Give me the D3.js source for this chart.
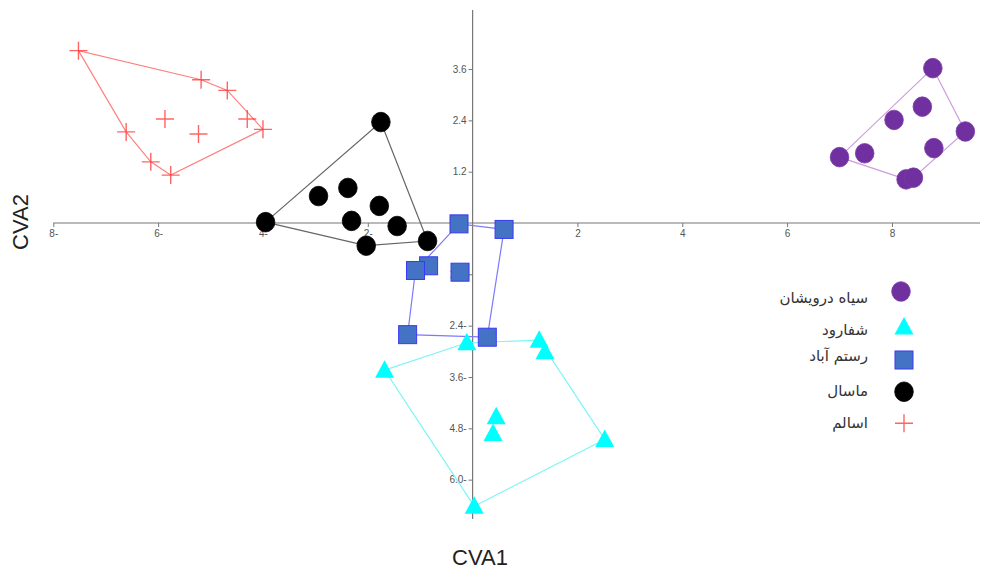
<!DOCTYPE html>
<html><head><meta charset="utf-8">
<script src="https://cdn.jsdelivr.net/npm/d3@7/dist/d3.min.js"></script>
<style>body{margin:0;background:#fff}svg{display:block}</style>
</head><body>
<svg id="c" width="987" height="569"></svg>
<script>
// ---- data ----
const groups = ["سیاه درویشان", "شفارود", "رستم آباد", "ماسال", "اسالم"];
const siahDarvishan = [[8.78,3.62],[8.58,2.72],[8.04,2.41],[9.40,2.14],[7.00,1.54],[7.48,1.63],[8.80,1.75],[8.27,1.02],[8.41,1.06]];
const shafarood = [[-0.11,-2.80],[-1.68,-3.44],[1.27,-2.74],[1.38,-3.01],[0.45,-4.53],[0.39,-4.92],[2.52,-5.06],[0.03,-6.62]];
const rostamabad = [[-0.26,-0.02],[0.60,-0.15],[-0.84,-1.00],[-1.09,-1.11],[-0.24,-1.15],[-1.24,-2.61],[0.28,-2.67]];
const masal = [[-1.75,2.36],[-3.95,0.02],[-2.94,0.63],[-2.38,0.82],[-1.78,0.40],[-2.31,0.05],[-1.44,-0.07],[-2.03,-0.53],[-0.86,-0.42]];
const asalem = [[-7.52,4.03],[-5.18,3.35],[-4.68,3.10],[-4.30,2.43],[-4.00,2.19],[-5.87,2.43],[-5.23,2.08],[-6.61,2.13],[-6.14,1.43],[-5.76,1.12]];
const xTickValues = [-8,-6,-4,-2,2,4,6,8];
const xTickLabels = ["8-","6-","4-","2-","2","4","6","8"];
const yTickValues = [3.6,2.4,1.2,-1.2,-2.4,-3.6,-4.8,-6.0];
const yTickLabels = ["3.6","2.4","1.2","1.2-","2.4-","3.6-","4.8-","6.0-"];

// ---- styles ----
const styles = [
  {shape:"circle", fill:"#7030A0", stroke:"#7a3aa8", hull:"#cc9ddb"},
  {shape:"triangle", fill:"#00FFFF", stroke:"#00FFFF", hull:"#7ff5f5"},
  {shape:"square", fill:"#4472C4", stroke:"#3a3af0", hull:"#7a7aff"},
  {shape:"circle", fill:"#000000", stroke:"#000000", hull:"#666666"},
  {shape:"plus", fill:"none", stroke:"#ff3030", hull:"#ff8080"}
];
const series = [siahDarvishan, shafarood, rostamabad, masal, asalem];

const svg = d3.select("#c");
const x = d3.scaleLinear().domain([-8, 9.68]).range([53.3, 980]);
const y = d3.scaleLinear().domain([-6.92, 4.98]).range([519, 10]);

// axes lines
svg.append("line").attr("x1", x(-8)).attr("x2", x(9.68)).attr("y1", y(0)).attr("y2", y(0))
  .attr("stroke", "#777").attr("stroke-width", 1.2);
svg.append("line").attr("x1", x(0)).attr("x2", x(0)).attr("y1", y(4.98)).attr("y2", y(-6.92))
  .attr("stroke", "#777").attr("stroke-width", 1.2);

// x ticks
const xt = svg.append("g").attr("transform", `translate(0,${y(0)})`)
  .call(d3.axisBottom(x).tickValues(xTickValues).tickSize(4).tickPadding(3)
    .tickFormat((d,i)=>xTickLabels[i]));
xt.select(".domain").remove();
xt.selectAll("line").attr("stroke", "#777");
xt.selectAll("text").attr("fill", "#555").style("font", "10px 'Liberation Sans', Arial, sans-serif");

const yt = svg.append("g").attr("transform", `translate(${x(0)},0)`)
  .call(d3.axisLeft(y).tickValues(yTickValues).tickSize(4).tickPadding(2)
    .tickFormat((d,i)=>yTickLabels[i]));
yt.select(".domain").remove();
yt.selectAll("line").attr("stroke", "#777");
yt.selectAll("text").attr("fill", "#555").style("font", "10px 'Liberation Sans', Arial, sans-serif");

// hulls
series.forEach((pts, i) => {
  const hull = d3.polygonHull(pts.map(p => [x(p[0]), y(p[1])]));
  svg.append("path").attr("d", "M" + hull.join("L") + "Z")
    .attr("fill", "none").attr("stroke", styles[i].hull).attr("stroke-width", 1.2);
});

function drawMarker(g, st, cx, cy) {
  if (st.shape === "circle") {
    g.append("ellipse").attr("cx", cx).attr("cy", cy).attr("rx", 9.3).attr("ry", 9.8)
      .attr("fill", st.fill).attr("stroke", st.stroke).attr("stroke-width", 0.8);
  } else if (st.shape === "square") {
    g.append("rect").attr("x", cx - 9).attr("y", cy - 9).attr("width", 18).attr("height", 18)
      .attr("fill", st.fill).attr("stroke", st.stroke).attr("stroke-width", 1);
  } else if (st.shape === "triangle") {
    g.append("path").attr("d", `M${cx},${cy-10}L${cx+9.5},${cy+7.5}L${cx-9.5},${cy+7.5}Z`)
      .attr("fill", st.fill);
  } else {
    g.append("path").attr("d", `M${cx-9},${cy}H${cx+9}M${cx},${cy-9}V${cx===cx?cy+9:0}`)
      .attr("stroke", st.stroke).attr("stroke-opacity", 0.75).attr("stroke-width", 1.4).attr("fill", "none");
  }
}

// points
series.forEach((pts, i) => {
  const g = svg.append("g");
  pts.forEach(p => drawMarker(g, styles[i], x(p[0]), y(p[1])));
});

// legend
const legendSymY = [291.5, 327, 360, 391.7, 423.3];
const legendTextY = [298, 330, 356, 391, 423];
const leg = svg.append("g");
groups.forEach((name, i) => {
  drawMarker(leg, styles[i], i === 0 ? 901 : 904, legendSymY[i]);
  leg.append("text").attr("x", 868).attr("y", legendTextY[i]).attr("dy", "0.35em")
    .attr("text-anchor", "end").attr("fill", "#333")
    .style("font", "15px 'DejaVu Sans', sans-serif").text(name);
});

// titles
svg.append("text").attr("x", 480).attr("y", 565).attr("text-anchor", "middle")
  .attr("fill", "#222").style("font", "22px 'Liberation Sans', Arial, sans-serif").text("CVA1");
svg.append("text").attr("transform", "translate(28,222) rotate(-90)").attr("text-anchor", "middle")
  .attr("fill", "#222").style("font", "22px 'Liberation Sans', Arial, sans-serif").text("CVA2");
</script>
</body></html>
